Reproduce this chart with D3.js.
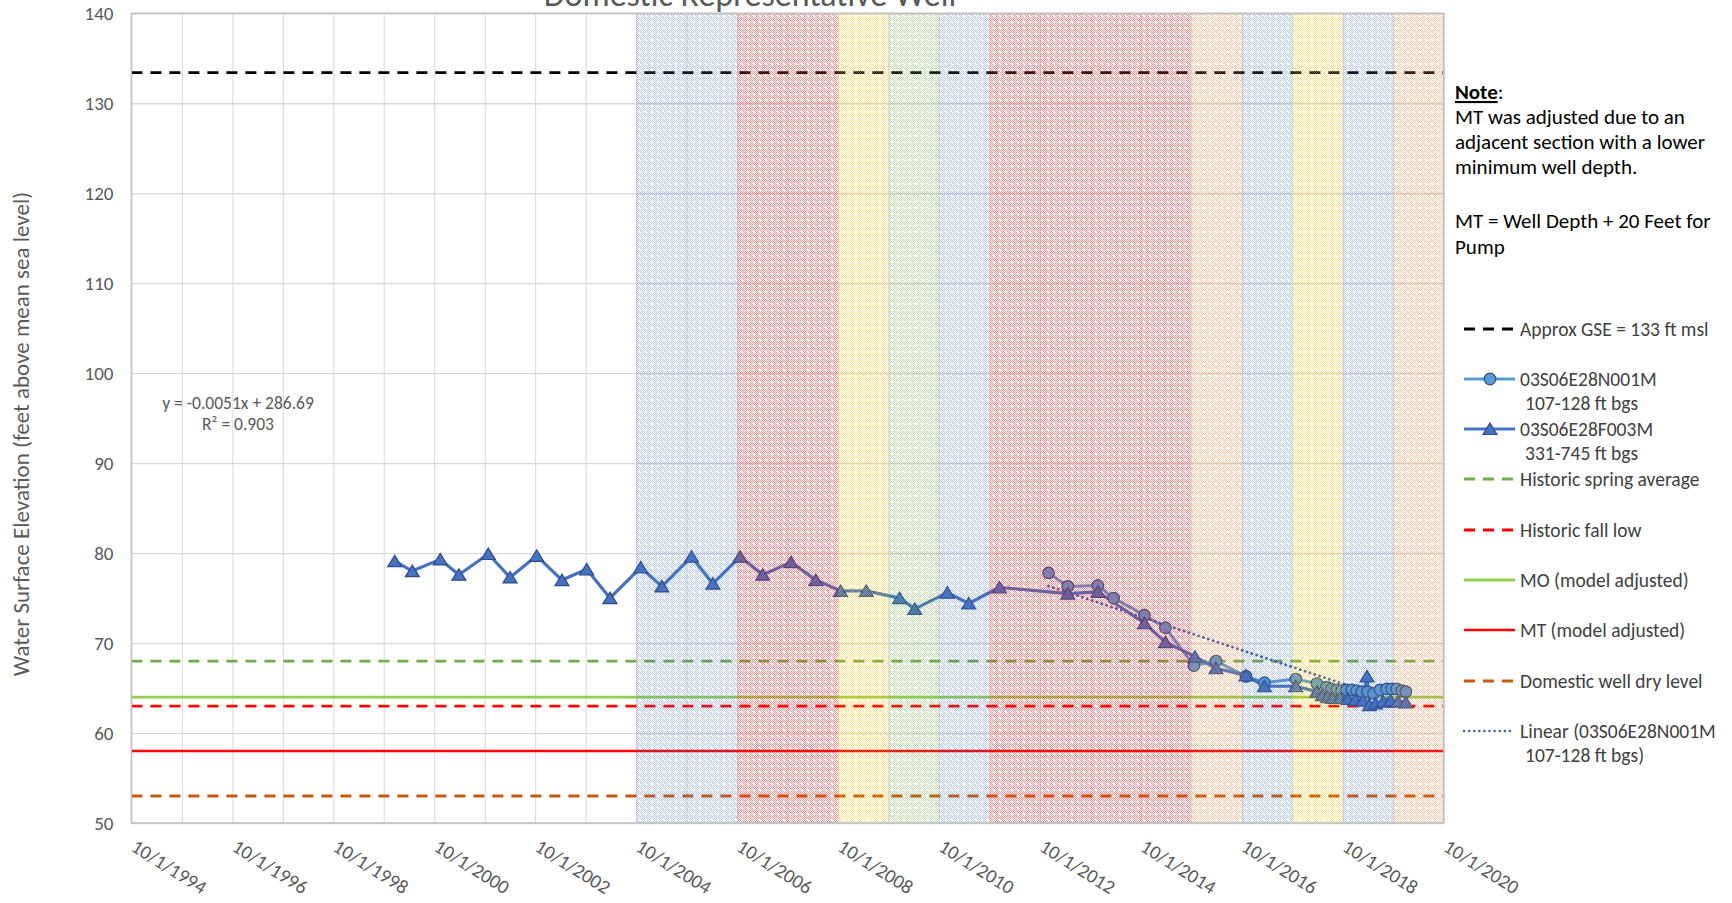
<!DOCTYPE html>
<meta charset="utf-8">
<style>
body { margin: 0; background: #fff; }
text { font-family: Carlito, Calibri, Lato, "Liberation Sans", sans-serif; }
</style>
<svg width="1732" height="903"></svg>
<script src="https://cdn.jsdelivr.net/npm/d3@7/dist/d3.min.js"></script>
<script>

// ---- data ----
var labelYears = [1994, 1996, 1998, 2000, 2002, 2004, 2006, 2008, 2010, 2012, 2014, 2016, 2018, 2020];
var yTickValues = [50, 60, 70, 80, 90, 100, 110, 120, 130, 140];

// water year classification bands (water year ends Sep 30 of the year)
var waterYears = [2005, 2006, 2007, 2008, 2009, 2010, 2011, 2012, 2013, 2014, 2015, 2016, 2017, 2018, 2019, 2020];
var waterYearTypes = ["wet", "wet", "critical", "critical", "below", "above", "wet", "critical", "critical", "critical", "critical", "dry", "wet", "below", "wet", "dry"];

// 03S06E28N001M  107-128 ft bgs
var n001mDates = ["2012-12-02", "2013-04-20", "2013-11-24", "2014-03-18", "2014-10-27", "2015-03-28", "2015-10-20",
  "2016-03-28", "2016-10-31", "2017-03-14", "2017-10-27", "2018-03-28", "2018-06-06", "2018-07-12", "2018-08-18",
  "2018-09-23", "2018-10-30", "2018-12-05", "2019-01-11", "2019-02-17", "2019-03-29", "2019-05-12", "2019-06-28",
  "2019-08-15", "2019-09-21", "2019-10-27", "2019-12-03", "2020-01-01"];
var n001mValues = [77.8, 76.3, 76.4, 75.0, 73.1, 71.7, 67.5,
  68.0, 66.3, 65.6, 66.0, 65.5, 65.1, 64.9, 64.8,
  64.7, 64.8, 64.8, 64.7, 64.6, 64.6, 64.4, 64.8,
  64.9, 64.9, 64.9, 64.7, 64.6];

// 03S06E28F003M  331-745 ft bgs
var f003mDates = ["1999-12-20", "2000-04-25", "2000-11-13", "2001-03-28", "2001-10-27", "2002-04-02", "2002-10-12",
  "2003-04-13", "2003-10-09", "2004-03-25", "2004-11-03", "2005-04-05", "2005-11-06", "2006-04-09", "2006-10-23",
  "2007-04-05", "2007-10-27", "2008-04-23", "2008-10-19", "2009-04-23", "2009-12-20", "2010-04-09", "2010-12-01",
  "2011-05-05", "2011-12-13", "2013-04-20", "2013-11-24", "2014-10-27", "2015-03-28", "2015-10-27", "2016-03-28",
  "2016-10-31", "2017-03-14", "2017-10-27", "2018-03-28", "2018-05-08", "2018-06-13", "2018-07-19", "2018-09-12",
  "2018-11-06", "2019-01-01", "2019-02-25", "2019-03-26", "2019-04-13", "2019-05-27", "2019-07-20", "2019-09-13",
  "2019-11-06", "2020-01-01"];
var f003mValues = [79.1, 78.0, 79.3, 77.6, 79.9, 77.3, 79.7,
  77.0, 78.2, 75.0, 78.4, 76.3, 79.6, 76.6, 79.6,
  77.6, 79.0, 77.0, 75.8, 75.8, 75.0, 73.8, 75.6,
  74.4, 76.2, 75.5, 75.7, 72.2, 70.1, 68.5, 67.2,
  66.4, 65.2, 65.2, 64.6, 64.2, 64.0, 63.9, 63.9,
  63.8, 63.7, 63.6, 66.3, 63.1, 63.3, 63.5, 63.6,
  63.5, 63.4];

// horizontal reference levels (ft msl)
var refNames = ["Approx GSE = 133 ft msl", "Historic spring average", "Historic fall low", "MO (model adjusted)", "MT (model adjusted)", "Domestic well dry level"];
var refValues = [133.4, 68, 63, 64, 58, 53];

// linear trend of N001M as reported by the chart (x = Excel date serial)
var trendSlope = -0.0051, trendIntercept = 286.69;

var noteLines = ["MT was adjusted due to an", "adjacent section with a lower", "minimum well depth.", "", "MT = Well Depth + 20 Feet for", "Pump"];

// ---- styles ----
var typeColors = { wet: "#4472C4", critical: "#FF2020", below: "#FFC000", above: "#70AD47", dry: "#ED7D31" };
var typeOpacity = { wet: 0.38, critical: 0.5, below: 0.45, above: 0.42, dry: 0.42 };
var refStyles = {
  "Approx GSE = 133 ft msl": { color: "#000000", dash: "11,8", width: 2.8 },
  "Historic spring average": { color: "#70AD47", dash: "11,8", width: 2.8 },
  "Historic fall low": { color: "#FF0000", dash: "11,8", width: 2.8 },
  "MO (model adjusted)": { color: "#92D050", dash: null, width: 2.8 },
  "MT (model adjusted)": { color: "#FF0000", dash: null, width: 2.5 },
  "Domestic well dry level": { color: "#C55A11", dash: "11,8", width: 2.8 }
};
var grey = "#595959";

var svg = d3.select("svg");
var pLeft = 131.4, pRight = 1443.7, pTop = 13.3, pBottom = 823;

var parse = d3.timeParse("%Y-%m-%d");
var x = d3.scaleTime()
    .domain([new Date(1994, 9, 1), new Date(2020, 9, 1)])
    .range([pLeft, pRight]);
var y = d3.scaleLinear()
    .domain([50, 140])
    .range([pBottom, pTop]);

var n001m = n001mDates.map(function(d, i) { return { date: parse(d), value: n001mValues[i] }; });
var f003m = f003mDates.map(function(d, i) { return { date: parse(d), value: f003mValues[i] }; });

// patterns for the water year bands
var defs = svg.append("defs");
Object.keys(typeColors).forEach(function(k) {
  var p = defs.append("pattern")
      .attr("id", "pat-" + k)
      .attr("patternUnits", "userSpaceOnUse")
      .attr("width", 6).attr("height", 6);
  for (var i = 0; i < 6; i++) {
    for (var j = 0; j < 6; j++) {
      if ((i + j) % 2 !== 0) continue;
      if (i >= 3 && i <= 4 && j >= 3 && j <= 4) continue;
      p.append("rect").attr("x", i).attr("y", j).attr("width", 1).attr("height", 1)
        .attr("fill", typeColors[k]).attr("fill-opacity", typeOpacity[k]);
    }
  }
});

// gridlines
var yearly = d3.range(1994, 2021).map(function(yr) { return new Date(yr, 9, 1); });
svg.append("g")
    .attr("transform", "translate(0," + pBottom + ")")
    .call(d3.axisBottom(x).tickValues(yearly).tickSize(-(pBottom - pTop)).tickFormat(""))
    .call(function(g) { g.select(".domain").remove(); })
    .selectAll("line").attr("stroke", "#D9D9D9").attr("stroke-width", 1);

svg.append("g")
    .attr("transform", "translate(" + pLeft + ",0)")
    .call(d3.axisLeft(y).tickValues(yTickValues).tickSize(-(pRight - pLeft)).tickFormat(""))
    .call(function(g) { g.select(".domain").remove(); })
    .selectAll("line").attr("stroke", "#D9D9D9").attr("stroke-width", 1.3);

// reference lines
svg.append("g").selectAll("line")
  .data(refNames)
  .enter().append("line")
    .attr("x1", pLeft).attr("x2", pRight)
    .attr("y1", function(d, i) { return y(refValues[i]); })
    .attr("y2", function(d, i) { return y(refValues[i]); })
    .attr("stroke", function(d) { return refStyles[d].color; })
    .attr("stroke-width", function(d) { return refStyles[d].width; })
    .attr("stroke-dasharray", function(d) { return refStyles[d].dash; });

// series lines
var line = d3.line()
    .x(function(d) { return x(d.date); })
    .y(function(d) { return y(d.value); });

svg.append("path").datum(n001m)
    .attr("fill", "none").attr("stroke", "#5B9BD5").attr("stroke-width", 3)
    .attr("stroke-linejoin", "round").attr("d", line);

// trendline
function excelSerial(dt) { return (dt - new Date(1899, 11, 30)) / 864e5; }
var trendEnds = [n001m[0].date, n001m[n001m.length - 1].date];
svg.append("line")
    .attr("x1", x(trendEnds[0])).attr("x2", x(trendEnds[1]))
    .attr("y1", y(trendSlope * excelSerial(trendEnds[0]) + trendIntercept))
    .attr("y2", y(trendSlope * excelSerial(trendEnds[1]) + trendIntercept))
    .attr("stroke", "#3A62B0").attr("stroke-width", 2.8)
    .attr("stroke-dasharray", "0.1,5").attr("stroke-linecap", "round");

svg.append("path").datum(f003m)
    .attr("fill", "none").attr("stroke", "#4472C4").attr("stroke-width", 3.2)
    .attr("stroke-linejoin", "round").attr("d", line);

var tri = "M0,-6L7,5.5L-7,5.5Z";

svg.append("g").selectAll("circle")
  .data(n001m)
  .enter().append("circle")
    .attr("cx", function(d) { return x(d.date); })
    .attr("cy", function(d) { return y(d.value); })
    .attr("r", 5.8)
    .attr("fill", "#5B9BD5").attr("stroke", "#2F4D7A").attr("stroke-width", 1.2);

svg.append("g").selectAll("path")
  .data(f003m)
  .enter().append("path")
    .attr("d", tri)
    .attr("transform", function(d) { return "translate(" + x(d.date) + "," + y(d.value) + ")"; })
    .attr("fill", "#4472C4").attr("stroke", "#2F4B8A").attr("stroke-width", 1.2);

// water year bands, laid over the plot
svg.append("g").selectAll("rect")
  .data(waterYears)
  .enter().append("rect")
    .attr("x", function(d) { return x(new Date(d - 1, 9, 1)); })
    .attr("width", function(d) { return x(new Date(d, 9, 1)) - x(new Date(d - 1, 9, 1)); })
    .attr("y", pTop).attr("height", pBottom - pTop)
    .attr("fill", function(d, i) { return "url(#pat-" + waterYearTypes[i] + ")"; });

// plot border
svg.append("rect")
    .attr("x", pLeft).attr("y", pTop)
    .attr("width", pRight - pLeft).attr("height", pBottom - pTop)
    .attr("fill", "none").attr("stroke", "#BFBFBF").attr("stroke-width", 1.5);

// axes labels
var yAxis = svg.append("g")
    .attr("transform", "translate(" + pLeft + ",0)")
    .call(d3.axisLeft(y).tickValues(yTickValues).tickSize(0).tickPadding(18));
yAxis.select(".domain").remove();
yAxis.selectAll("text").attr("fill", grey).style("font-size", "19px");

var xAxis = svg.append("g")
    .attr("transform", "translate(0," + pBottom + ")")
    .call(d3.axisBottom(x)
      .tickValues(labelYears.map(function(yr) { return new Date(yr, 9, 1); }))
      .tickSize(0)
      .tickFormat(d3.timeFormat("%-m/%-d/%Y")));
xAxis.select(".domain").remove();
xAxis.selectAll("text")
    .attr("fill", grey).style("font-size", "19.5px")
    .attr("text-anchor", "start")
    .attr("y", 0).attr("dy", 0)
    .attr("transform", "translate(-2,27) rotate(32)");

svg.append("text")
    .attr("transform", "translate(29,434) rotate(-90)")
    .attr("text-anchor", "middle")
    .attr("fill", grey).style("font-size", "23px")
    .text("Water Surface Elevation (feet above mean sea level)");

svg.append("text")
    .attr("x", 750).attr("y", 6)
    .attr("text-anchor", "middle")
    .attr("fill", grey).style("font-size", "34px")
    .text("Domestic Representative Well");

// trend equation
svg.append("text").attr("x", 238).attr("y", 409).attr("text-anchor", "middle")
    .attr("fill", grey).style("font-size", "17.5px").text("y = -0.0051x + 286.69");
svg.append("text").attr("x", 238).attr("y", 430).attr("text-anchor", "middle")
    .attr("fill", grey).style("font-size", "17.5px").text("R² = 0.903");

// note
var noteSize = "21px";
var note = svg.append("text").attr("x", 1455).attr("y", 99).style("font-size", noteSize).attr("fill", "#000");
note.append("tspan").style("font-weight", "bold").style("text-decoration", "underline").text("Note");
note.append("tspan").text(":");
var noteY = [124, 149, 174, 0, 228, 254];
noteLines.forEach(function(t, i) {
  if (!t) return;
  svg.append("text").attr("x", 1455).attr("y", noteY[i])
    .style("font-size", noteSize).attr("fill", "#000").text(t);
});

// legend
var lx1 = 1464, lx2 = 1515, tx = 1520;
var lg = svg.append("g").style("font-size", "19.5px").attr("fill", "#404040");
function legText(xx, yy, t) { lg.append("text").attr("x", xx).attr("y", yy + 7).text(t); }

var refLegendY = { "Approx GSE = 133 ft msl": 329, "Historic spring average": 479, "Historic fall low": 530,
  "MO (model adjusted)": 580, "MT (model adjusted)": 630, "Domestic well dry level": 681 };
refNames.forEach(function(n) {
  var s = refStyles[n], yy = refLegendY[n];
  lg.append("line").attr("x1", lx1).attr("x2", lx2).attr("y1", yy).attr("y2", yy)
    .attr("stroke", s.color).attr("stroke-width", s.width).attr("stroke-dasharray", s.dash);
  legText(tx, yy, n);
});

lg.append("line").attr("x1", lx1).attr("x2", lx2).attr("y1", 379).attr("y2", 379)
  .attr("stroke", "#5B9BD5").attr("stroke-width", 3);
lg.append("circle").attr("cx", 1490).attr("cy", 379).attr("r", 5.8)
  .attr("fill", "#5B9BD5").attr("stroke", "#2F4D7A").attr("stroke-width", 1.2);
legText(tx, 379, "03S06E28N001M");
legText(tx + 5, 403, "107-128 ft bgs");

lg.append("line").attr("x1", lx1).attr("x2", lx2).attr("y1", 429).attr("y2", 429)
  .attr("stroke", "#4472C4").attr("stroke-width", 3);
lg.append("path").attr("d", tri).attr("transform", "translate(1490,429)")
  .attr("fill", "#4472C4").attr("stroke", "#2F4B8A").attr("stroke-width", 1.2);
legText(tx, 429, "03S06E28F003M");
legText(tx + 5, 453, "331-745 ft bgs");

lg.append("line").attr("x1", lx1).attr("x2", lx2).attr("y1", 731).attr("y2", 731)
  .attr("stroke", "#3A62B0").attr("stroke-width", 2.5).attr("stroke-dasharray", "0.1,5").attr("stroke-linecap", "round");
legText(tx, 731, "Linear (03S06E28N001M");
legText(tx + 5, 755, "107-128 ft bgs)");

</script>
